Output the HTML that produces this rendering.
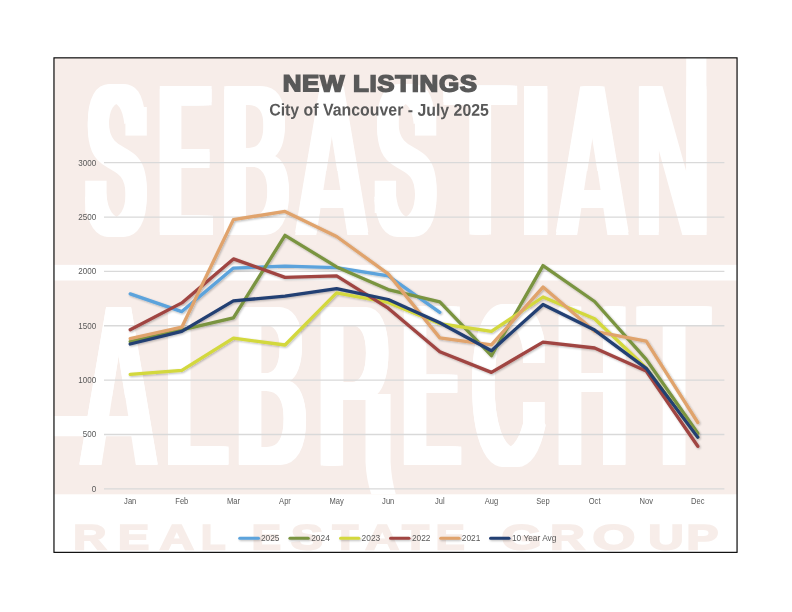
<!DOCTYPE html>
<html lang="en"><head><meta charset="utf-8"><title>New Listings - City of Vancouver - July 2025</title>
<style>
html,body{margin:0;padding:0;background:#fff;}
body{width:792px;height:612px;position:relative;overflow:hidden;font-family:"Liberation Sans",sans-serif;}
.big{position:absolute;left:0;top:0;width:0;height:0;color:#fff;font:400 100px/1 "Liberation Sans",sans-serif;}
.big span,.reg span{position:absolute;left:0;top:0;display:block;white-space:pre;transform-origin:0 0;}
.big span{margin-top:-84.67px;transform-origin:0 84.67px;}
.reg{position:absolute;left:0;top:0;width:0;height:0;color:#f7ede9;font:700 34.9px/1 "Liberation Sans",sans-serif;-webkit-text-stroke:1.8px #f7ede9;}
.reg span{margin-top:-29.55px;transform-origin:0 29.55px;}
.title{position:absolute;color:#595959;font-weight:700;white-space:nowrap;transform-origin:0 0;}
.t1{left:0;top:0;font-size:23.4px;line-height:30px;transform:translate(282.7px,68.35px) scaleX(1.107) rotate(0.05deg);-webkit-text-stroke:1.5px #595959;letter-spacing:0.6px}
.t2{left:0;top:0;font-size:17px;line-height:20px;transform:translate(269.2px,100.5px) scaleX(0.934) rotate(0.05deg);}
.chart{position:absolute;left:0;top:0;}
.ax{font-family:"Liberation Sans",sans-serif;font-size:8.4px;fill:#595959;}
#all{position:absolute;left:0;top:0;width:792px;height:612px;opacity:0.999;}
</style></head><body><div id="all">
<svg class="chart" width="792" height="612" viewBox="0 0 792 612"><rect x="54" y="58" width="683" height="436.3" fill="#f7ede9"/></svg>
<div class="big seb"><span style="transform:translate(88.02px,233.50px) scale(0.8395,2.1163);text-shadow:-8.14px -0.71px 0 #fff,-8.14px 0.71px 0 #fff,-5.37px -0.71px 0 #fff,-5.37px 0.71px 0 #fff,-2.69px -0.71px 0 #fff,-2.69px 0.71px 0 #fff,0.00px -0.71px 0 #fff,0.00px 0.71px 0 #fff,2.69px -0.71px 0 #fff,2.69px 0.71px 0 #fff,5.37px -0.71px 0 #fff,5.37px 0.71px 0 #fff,8.14px -0.71px 0 #fff,8.14px 0.71px 0 #fff">S</span><span style="transform:translate(161.33px,233.50px) scale(0.7087,2.1163);text-shadow:-10.51px -0.71px 0 #fff,-10.51px 0.71px 0 #fff,-6.93px -0.71px 0 #fff,-6.93px 0.71px 0 #fff,-3.47px -0.71px 0 #fff,-3.47px 0.71px 0 #fff,0.00px -0.71px 0 #fff,0.00px 0.71px 0 #fff,3.47px -0.71px 0 #fff,3.47px 0.71px 0 #fff,6.93px -0.71px 0 #fff,6.93px 0.71px 0 #fff,10.51px -0.71px 0 #fff,10.51px 0.71px 0 #fff">E</span><span style="transform:translate(222.39px,233.50px) scale(0.9841,2.1163);text-shadow:-6.26px -0.71px 0 #fff,-6.26px 0.71px 0 #fff,-4.13px -0.71px 0 #fff,-4.13px 0.71px 0 #fff,-2.07px -0.71px 0 #fff,-2.07px 0.71px 0 #fff,0.00px -0.71px 0 #fff,0.00px 0.71px 0 #fff,2.07px -0.71px 0 #fff,2.07px 0.71px 0 #fff,4.13px -0.71px 0 #fff,4.13px 0.71px 0 #fff,6.26px -0.71px 0 #fff,6.26px 0.71px 0 #fff">B</span><span style="font-weight:700;transform:translate(296.44px,233.50px) scale(0.9813,2.1163);text-shadow:-3.75px -0.71px 0 #fff,-3.75px 0.71px 0 #fff,-2.48px -0.71px 0 #fff,-2.48px 0.71px 0 #fff,-1.24px -0.71px 0 #fff,-1.24px 0.71px 0 #fff,0.00px -0.71px 0 #fff,0.00px 0.71px 0 #fff,1.24px -0.71px 0 #fff,1.24px 0.71px 0 #fff,2.48px -0.71px 0 #fff,2.48px 0.71px 0 #fff,3.75px -0.71px 0 #fff,3.75px 0.71px 0 #fff">A</span><span style="transform:translate(377.38px,233.50px) scale(0.8437,2.1163);text-shadow:-8.08px -0.71px 0 #fff,-8.08px 0.71px 0 #fff,-5.33px -0.71px 0 #fff,-5.33px 0.71px 0 #fff,-2.67px -0.71px 0 #fff,-2.67px 0.71px 0 #fff,0.00px -0.71px 0 #fff,0.00px 0.71px 0 #fff,2.67px -0.71px 0 #fff,2.67px 0.71px 0 #fff,5.33px -0.71px 0 #fff,5.33px 0.71px 0 #fff,8.08px -0.71px 0 #fff,8.08px 0.71px 0 #fff">S</span><span style="transform:translate(446.53px,233.50px) scale(1.1034,2.1163);text-shadow:-5.08px -0.71px 0 #fff,-5.08px 0.71px 0 #fff,-3.35px -0.71px 0 #fff,-3.35px 0.71px 0 #fff,-1.68px -0.71px 0 #fff,-1.68px 0.71px 0 #fff,0.00px -0.71px 0 #fff,0.00px 0.71px 0 #fff,1.68px -0.71px 0 #fff,1.68px 0.71px 0 #fff,3.35px -0.71px 0 #fff,3.35px 0.71px 0 #fff,5.08px -0.71px 0 #fff,5.08px 0.71px 0 #fff">T</span><span style="transform:translate(521.76px,233.50px) scale(1.0000,2.1163);text-shadow:-6.89px -0.71px 0 #fff,-6.89px 0.71px 0 #fff,-4.55px -0.71px 0 #fff,-4.55px 0.71px 0 #fff,-2.27px -0.71px 0 #fff,-2.27px 0.71px 0 #fff,0.00px -0.71px 0 #fff,0.00px 0.71px 0 #fff,2.27px -0.71px 0 #fff,2.27px 0.71px 0 #fff,4.55px -0.71px 0 #fff,4.55px 0.71px 0 #fff,6.89px -0.71px 0 #fff,6.89px 0.71px 0 #fff">I</span><span style="font-weight:700;transform:translate(557.37px,233.50px) scale(0.9680,2.1163);text-shadow:-3.90px -0.71px 0 #fff,-3.90px 0.71px 0 #fff,-2.58px -0.71px 0 #fff,-2.58px 0.71px 0 #fff,-1.29px -0.71px 0 #fff,-1.29px 0.71px 0 #fff,0.00px -0.71px 0 #fff,0.00px 0.71px 0 #fff,1.29px -0.71px 0 #fff,1.29px 0.71px 0 #fff,2.58px -0.71px 0 #fff,2.58px 0.71px 0 #fff,3.90px -0.71px 0 #fff,3.90px 0.71px 0 #fff">A</span><span style="font-weight:700;transform:translate(635.25px,233.50px) scale(1.0364,2.1163);text-shadow:-3.17px -0.71px 0 #fff,-3.17px 0.71px 0 #fff,-2.09px -0.71px 0 #fff,-2.09px 0.71px 0 #fff,-1.05px -0.71px 0 #fff,-1.05px 0.71px 0 #fff,0.00px -0.71px 0 #fff,0.00px 0.71px 0 #fff,1.05px -0.71px 0 #fff,1.05px 0.71px 0 #fff,2.09px -0.71px 0 #fff,2.09px 0.71px 0 #fff,3.17px -0.71px 0 #fff,3.17px 0.71px 0 #fff">N</span></div>
<div class="big alb"><span style="font-weight:700;transform:translate(80.35px,464.10px) scale(1.0629,2.2762);text-shadow:-3.29px -0.40px 0 #fff,-3.29px 0.40px 0 #fff,-2.17px -0.40px 0 #fff,-2.17px 0.40px 0 #fff,-1.09px -0.40px 0 #fff,-1.09px 0.40px 0 #fff,0.00px -0.40px 0 #fff,0.00px 0.40px 0 #fff,1.09px -0.40px 0 #fff,1.09px 0.40px 0 #fff,2.17px -0.40px 0 #fff,2.17px 0.40px 0 #fff,3.29px -0.40px 0 #fff,3.29px 0.40px 0 #fff">A</span><span style="transform:translate(165.01px,464.10px) scale(1.0988,2.2762);text-shadow:-5.48px -0.40px 0 #fff,-5.48px 0.40px 0 #fff,-3.62px -0.40px 0 #fff,-3.62px 0.40px 0 #fff,-1.81px -0.40px 0 #fff,-1.81px 0.40px 0 #fff,0.00px -0.40px 0 #fff,0.00px 0.40px 0 #fff,1.81px -0.40px 0 #fff,1.81px 0.40px 0 #fff,3.62px -0.40px 0 #fff,3.62px 0.40px 0 #fff,5.48px -0.40px 0 #fff,5.48px 0.40px 0 #fff">L</span><span style="transform:translate(236.79px,464.10px) scale(1.0229,2.2762);text-shadow:-6.24px -0.40px 0 #fff,-6.24px 0.40px 0 #fff,-4.12px -0.40px 0 #fff,-4.12px 0.40px 0 #fff,-2.06px -0.40px 0 #fff,-2.06px 0.40px 0 #fff,0.00px -0.40px 0 #fff,0.00px 0.40px 0 #fff,2.06px -0.40px 0 #fff,2.06px 0.40px 0 #fff,4.12px -0.40px 0 #fff,4.12px 0.40px 0 #fff,6.24px -0.40px 0 #fff,6.24px 0.40px 0 #fff">B</span><span style="transform:translate(319.76px,464.10px) scale(0.9551,2.2762);text-shadow:-7.01px -0.40px 0 #fff,-7.01px 0.40px 0 #fff,-4.63px -0.40px 0 #fff,-4.63px 0.40px 0 #fff,-2.31px -0.40px 0 #fff,-2.31px 0.40px 0 #fff,0.00px -0.40px 0 #fff,0.00px 0.40px 0 #fff,2.31px -0.40px 0 #fff,2.31px 0.40px 0 #fff,4.63px -0.40px 0 #fff,4.63px 0.40px 0 #fff,7.01px -0.40px 0 #fff,7.01px 0.40px 0 #fff">R</span><span style="transform:translate(404.91px,464.10px) scale(0.7800,2.2762);text-shadow:-9.63px -0.40px 0 #fff,-9.63px 0.40px 0 #fff,-6.36px -0.40px 0 #fff,-6.36px 0.40px 0 #fff,-3.18px -0.40px 0 #fff,-3.18px 0.40px 0 #fff,0.00px -0.40px 0 #fff,0.00px 0.40px 0 #fff,3.18px -0.40px 0 #fff,3.18px 0.40px 0 #fff,6.36px -0.40px 0 #fff,6.36px 0.40px 0 #fff,9.63px -0.40px 0 #fff,9.63px 0.40px 0 #fff">E</span><span style="transform:translate(473.91px,464.10px) scale(0.9481,2.2762);text-shadow:-7.10px -0.40px 0 #fff,-7.10px 0.40px 0 #fff,-4.68px -0.40px 0 #fff,-4.68px 0.40px 0 #fff,-2.34px -0.40px 0 #fff,-2.34px 0.40px 0 #fff,0.00px -0.40px 0 #fff,0.00px 0.40px 0 #fff,2.34px -0.40px 0 #fff,2.34px 0.40px 0 #fff,4.68px -0.40px 0 #fff,4.68px 0.40px 0 #fff,7.10px -0.40px 0 #fff,7.10px 0.40px 0 #fff">C</span><span style="transform:translate(557.73px,464.10px) scale(0.9499,2.2762);text-shadow:-7.08px -0.40px 0 #fff,-7.08px 0.40px 0 #fff,-4.67px -0.40px 0 #fff,-4.67px 0.40px 0 #fff,-2.33px -0.40px 0 #fff,-2.33px 0.40px 0 #fff,0.00px -0.40px 0 #fff,0.00px 0.40px 0 #fff,2.33px -0.40px 0 #fff,2.33px 0.40px 0 #fff,4.67px -0.40px 0 #fff,4.67px 0.40px 0 #fff,7.08px -0.40px 0 #fff,7.08px 0.40px 0 #fff">H</span><span style="transform:translate(640.04px,464.10px) scale(1.1161,2.2762);text-shadow:-5.33px -0.40px 0 #fff,-5.33px 0.40px 0 #fff,-3.52px -0.40px 0 #fff,-3.52px 0.40px 0 #fff,-1.76px -0.40px 0 #fff,-1.76px 0.40px 0 #fff,0.00px -0.40px 0 #fff,0.00px 0.40px 0 #fff,1.76px -0.40px 0 #fff,1.76px 0.40px 0 #fff,3.52px -0.40px 0 #fff,3.52px 0.40px 0 #fff,5.33px -0.40px 0 #fff,5.33px 0.40px 0 #fff">T</span></div>
<svg class="chart" width="792" height="612" viewBox="0 0 792 612"><polygon fill="#f7ede9" points="316.23,236.60 347.52,236.60 337.47,171.06 326.25,171.06"/><polygon fill="#fff" points="319.31,208.10 344.42,208.10 341.67,190.12 322.06,190.12"/><polygon fill="#f7ede9" points="577.03,236.60 607.61,236.60 597.70,171.06 586.92,171.06"/><polygon fill="#fff" points="580.06,208.10 604.58,208.10 601.86,190.12 582.77,190.12"/><polygon fill="#f7ede9" points="101.29,467.43 136.17,467.43 125.41,397.71 112.02,397.71"/><polygon fill="#fff" points="54.00,436.33 132.73,436.33 129.58,415.90 54.00,415.90"/><rect fill="#f7ede9" x="343.20" y="399.98" width="56.30" height="72.02"/><path fill="#fff" d="M365.5,393.98 L390.6,393.98 L390.6,462 Q391.5,480 395.8,494.3 L371.3,494.3 Q366.3,480 365.5,462 Z"/><rect fill="#fff" x="125.40" y="107.00" width="21.40" height="28.60"/><rect fill="#fff" x="85.20" y="180.70" width="21.40" height="32.30"/><rect fill="#fff" x="414.90" y="107.00" width="21.40" height="28.60"/><rect fill="#fff" x="374.70" y="180.70" width="21.40" height="32.30"/><rect fill="#fff" x="686.20" y="58.00" width="20.20" height="177.00"/><rect fill="#fff" x="54.00" y="264.85" width="683.00" height="15.65"/><rect fill="#fff" x="523.00" y="340.00" width="21.80" height="23.00"/><rect fill="#fff" x="523.00" y="402.00" width="21.80" height="24.00"/></svg>
<div class="reg"><span style="transform:translate(73.31px,550.35px) scale(1.3151,1) rotate(0.05deg)">R</span><span style="transform:translate(117.88px,550.35px) scale(1.3377,1) rotate(0.05deg)">E</span><span style="transform:translate(159.74px,550.35px) scale(1.3524,1) rotate(0.05deg)">A</span><span style="transform:translate(201.05px,550.35px) scale(1.1517,1) rotate(0.05deg)">L</span> <span style="transform:translate(251.80px,550.35px) scale(1.2535,1) rotate(0.05deg)">E</span><span style="transform:translate(291.06px,550.35px) scale(1.3695,1) rotate(0.05deg)">S</span><span style="transform:translate(332.61px,550.35px) scale(1.1990,1) rotate(0.05deg)">T</span><span style="transform:translate(365.54px,550.35px) scale(1.3286,1) rotate(0.05deg)">A</span><span style="transform:translate(402.13px,550.35px) scale(1.2482,1) rotate(0.05deg)">T</span><span style="transform:translate(435.72px,550.35px) scale(1.2441,1) rotate(0.05deg)">E</span> <span style="transform:translate(501.52px,550.35px) scale(1.4753,1) rotate(0.05deg)">G</span><span style="transform:translate(550.24px,550.35px) scale(1.3693,1) rotate(0.05deg)">R</span><span style="transform:translate(592.46px,550.35px) scale(1.5739,1) rotate(0.05deg)">O</span><span style="transform:translate(648.32px,550.35px) scale(1.4049,1) rotate(0.05deg)">U</span><span style="transform:translate(686.54px,550.35px) scale(1.3689,1) rotate(0.05deg)">P</span></div>
<div class="title t1">NEW LISTINGS</div>
<div class="title t2">City of Vancouver - July 2025</div>
<svg class="chart" width="792" height="612" viewBox="0 0 792 612">
<defs><filter id="sh" filterUnits="userSpaceOnUse" x="0" y="0" width="792" height="612"><feGaussianBlur in="SourceAlpha" stdDeviation="1.0"/><feOffset dx="0.5" dy="1.3"/><feComponentTransfer><feFuncA type="linear" slope="0.28"/></feComponentTransfer><feMerge><feMergeNode/><feMergeNode in="SourceGraphic"/></feMerge></filter></defs>
<line x1="104.0" x2="724.4" y1="488.85" y2="488.85" stroke="#d9d9d9" stroke-width="1.35"/>
<text class="ax" transform="translate(96.2,491.85) scale(0.96,1)" text-anchor="end">0</text>
<line x1="104.0" x2="724.4" y1="434.49" y2="434.49" stroke="#d9d9d9" stroke-width="1.35"/>
<text class="ax" transform="translate(96.2,437.49) scale(0.96,1)" text-anchor="end">500</text>
<line x1="104.0" x2="724.4" y1="380.13" y2="380.13" stroke="#d9d9d9" stroke-width="1.35"/>
<text class="ax" transform="translate(96.2,383.13) scale(0.96,1)" text-anchor="end">1000</text>
<line x1="104.0" x2="724.4" y1="325.77" y2="325.77" stroke="#d9d9d9" stroke-width="1.35"/>
<text class="ax" transform="translate(96.2,328.77) scale(0.96,1)" text-anchor="end">1500</text>
<line x1="104.0" x2="724.4" y1="271.41" y2="271.41" stroke="#d9d9d9" stroke-width="1.35"/>
<text class="ax" transform="translate(96.2,274.41) scale(0.96,1)" text-anchor="end">2000</text>
<line x1="104.0" x2="724.4" y1="217.05" y2="217.05" stroke="#d9d9d9" stroke-width="1.35"/>
<text class="ax" transform="translate(96.2,220.05) scale(0.96,1)" text-anchor="end">2500</text>
<line x1="104.0" x2="724.4" y1="162.69" y2="162.69" stroke="#d9d9d9" stroke-width="1.35"/>
<text class="ax" transform="translate(96.2,165.69) scale(0.96,1)" text-anchor="end">3000</text>
<text class="ax" transform="translate(130.20,504.4) scale(0.9,1)" text-anchor="middle">Jan</text>
<text class="ax" transform="translate(181.80,504.4) scale(0.9,1)" text-anchor="middle">Feb</text>
<text class="ax" transform="translate(233.40,504.4) scale(0.9,1)" text-anchor="middle">Mar</text>
<text class="ax" transform="translate(285.00,504.4) scale(0.9,1)" text-anchor="middle">Apr</text>
<text class="ax" transform="translate(336.60,504.4) scale(0.9,1)" text-anchor="middle">May</text>
<text class="ax" transform="translate(388.20,504.4) scale(0.9,1)" text-anchor="middle">Jun</text>
<text class="ax" transform="translate(439.80,504.4) scale(0.9,1)" text-anchor="middle">Jul</text>
<text class="ax" transform="translate(491.40,504.4) scale(0.9,1)" text-anchor="middle">Aug</text>
<text class="ax" transform="translate(543.00,504.4) scale(0.9,1)" text-anchor="middle">Sep</text>
<text class="ax" transform="translate(594.60,504.4) scale(0.9,1)" text-anchor="middle">Oct</text>
<text class="ax" transform="translate(646.20,504.4) scale(0.9,1)" text-anchor="middle">Nov</text>
<text class="ax" transform="translate(697.80,504.4) scale(0.9,1)" text-anchor="middle">Dec</text>
<g filter="url(#sh)" fill="none" stroke-width="3.3" stroke-linecap="round" stroke-linejoin="round">
<polyline stroke="#5ba3dc" points="130.2,293.9 181.8,311.6 233.4,268.1 285.0,266.1 336.6,267.7 388.2,275.9 439.8,312.3"/>
<polyline stroke="#7a9441" points="130.2,341.6 181.8,329.8 233.4,317.9 285.0,235.3 336.6,266.9 388.2,289.6 439.8,301.8 491.4,355.7 543.0,265.6 594.6,301.5 646.2,359.4 697.8,433.3"/>
<polyline stroke="#d3d83e" points="130.2,374.3 181.8,370.4 233.4,338.2 285.0,345.0 336.6,292.9 388.2,302.4 439.8,323.7 491.4,331.3 543.0,297.0 594.6,318.7 646.2,368.0 697.8,436.9"/>
<polyline stroke="#a04542" points="130.2,329.8 181.8,302.9 233.4,258.9 285.0,277.4 336.6,275.8 388.2,308.2 439.8,351.8 491.4,372.4 543.0,342.2 594.6,348.0 646.2,371.1 697.8,446.3"/>
<polyline stroke="#e0a36c" points="130.2,338.6 181.8,327.2 233.4,219.6 285.0,211.4 336.6,236.5 388.2,273.9 439.8,337.9 491.4,344.9 543.0,287.1 594.6,331.3 646.2,341.1 697.8,422.5"/>
<polyline stroke="#243f73" points="130.2,344.0 181.8,331.4 233.4,300.9 285.0,296.1 336.6,288.6 388.2,299.5 439.8,322.8 491.4,350.7 543.0,304.4 594.6,330.1 646.2,368.3 697.8,437.2"/>
</g>
<g filter="url(#sh)" fill="none" stroke-width="3" stroke-linecap="round">
<line x1="239.7" x2="258.5" y1="538.3" y2="538.3" stroke="#5ba3dc"/>
<line x1="289.9" x2="308.3" y1="538.3" y2="538.3" stroke="#7a9441"/>
<line x1="340.5" x2="358.8" y1="538.3" y2="538.3" stroke="#d3d83e"/>
<line x1="390.5" x2="409.0" y1="538.3" y2="538.3" stroke="#a04542"/>
<line x1="440.7" x2="459.0" y1="538.3" y2="538.3" stroke="#e0a36c"/>
<line x1="490.5" x2="509.0" y1="538.3" y2="538.3" stroke="#243f73"/>
</g>
<text class="ax" x="260.9" y="541.4">2025</text>
<text class="ax" x="311.2" y="541.4">2024</text>
<text class="ax" x="361.6" y="541.4">2023</text>
<text class="ax" x="411.9" y="541.4">2022</text>
<text class="ax" x="461.8" y="541.4">2021</text>
<text class="ax" x="511.9" y="541.4">10 Year Avg</text>
<rect x="53.97" y="57.85" width="683.08" height="494.5" fill="none" stroke="#000" stroke-width="1.15"/>
</svg>
</div></body></html>
